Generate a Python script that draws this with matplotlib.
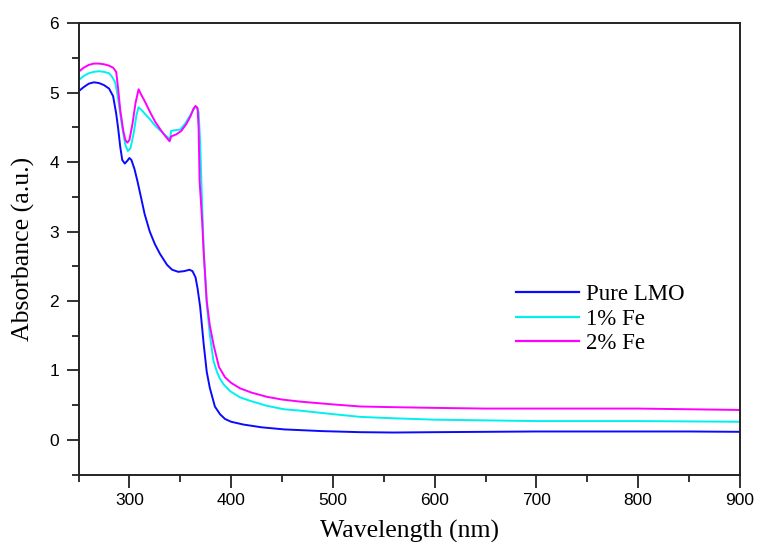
import matplotlib
matplotlib.use("Agg")
import matplotlib.pyplot as plt
from matplotlib.ticker import MultipleLocator

# UV-Vis absorbance spectra
wl_pure = [250, 255, 260, 265, 270, 275, 280, 284, 287, 289, 291, 293, 295.5, 298,
           300, 302, 305, 308, 311, 315, 320, 325, 330, 337, 342, 348, 354, 359,
           362, 365, 367, 369.5, 373, 376, 379, 384, 389, 394, 400, 412, 430, 452,
           490, 527, 560, 600, 650, 700, 750, 800, 850, 900]
abs_pure = [5.02, 5.08, 5.13, 5.15, 5.14, 5.11, 5.06, 4.95, 4.70, 4.48, 4.22, 4.03, 3.98, 4.02,
            4.06, 4.03, 3.90, 3.72, 3.52, 3.25, 3.00, 2.82, 2.68, 2.52, 2.45, 2.42, 2.43, 2.45,
            2.43, 2.34, 2.18, 1.92, 1.38, 0.98, 0.75, 0.48, 0.37, 0.30, 0.26, 0.22, 0.18, 0.15,
            0.125, 0.11, 0.105, 0.11, 0.115, 0.12, 0.12, 0.12, 0.12, 0.115]

wl_fe1 = [250, 255, 260, 265, 270, 275, 280, 283, 286, 288, 290, 293, 296, 298.5,
          301, 304, 307, 309, 312, 315, 320, 325, 330, 335, 340, 341, 345, 350,
          355, 360, 364, 366, 368, 369.5, 371, 373, 376, 379, 382.6, 386, 389, 392.5,
          399, 409, 419, 435, 452, 468, 500, 527, 560, 600, 650, 700, 800, 900]
abs_fe1 = [5.18, 5.24, 5.28, 5.30, 5.31, 5.30, 5.28, 5.23, 5.15, 5.00, 4.80, 4.50, 4.25, 4.16,
           4.20, 4.40, 4.68, 4.79, 4.75, 4.70, 4.62, 4.53, 4.46, 4.39, 4.33, 4.45, 4.46, 4.47,
           4.56, 4.68, 4.78, 4.79, 4.72, 4.30, 3.60, 2.75, 1.95, 1.52, 1.14, 0.98, 0.88, 0.80,
           0.70, 0.61, 0.56, 0.49, 0.44, 0.42, 0.37, 0.33, 0.31, 0.29, 0.28, 0.27, 0.27, 0.26]

wl_fe2 = [250, 255, 260, 265, 270, 275, 280, 284, 287, 289, 291, 294, 296, 298,
          300, 303, 306, 309, 312, 315, 320, 325, 330, 335, 339.5, 341, 346, 351,
          356, 360, 363, 365, 367, 368, 369, 371.5, 373, 376, 379, 383, 388, 394,
          400, 409, 420, 435, 450, 468, 500, 527, 560, 600, 650, 700, 750, 800, 850, 900]
abs_fe2 = [5.30, 5.36, 5.40, 5.42, 5.42, 5.41, 5.39, 5.36, 5.30, 5.05, 4.75, 4.45, 4.32, 4.28,
           4.32, 4.55, 4.85, 5.05, 4.96, 4.88, 4.73, 4.59, 4.48, 4.38, 4.30, 4.37, 4.40, 4.45,
           4.55, 4.66, 4.77, 4.81, 4.78, 4.50, 3.73, 3.15, 2.70, 2.00, 1.65, 1.35, 1.05, 0.90,
           0.82, 0.74, 0.68, 0.62, 0.58, 0.55, 0.51, 0.48, 0.47, 0.46, 0.45, 0.45, 0.45, 0.45, 0.44, 0.43]

series_labels = ["Pure LMO", "1% Fe", "2% Fe"]
series_colors = ["#0a0aff", "#00f0f0", "#ff00ff"]

serif = ["Liberation Serif", "DejaVu Serif"]
sans = ["Liberation Sans", "DejaVu Sans"]

fig = plt.figure(figsize=(7.58, 5.42), dpi=100)
ax = fig.add_axes([0.1036, 0.1245, 0.8725, 0.8325])

for x, y, lab, col in zip([wl_pure, wl_fe1, wl_fe2], [abs_pure, abs_fe1, abs_fe2],
                          series_labels, series_colors):
    ax.plot(x, y, color=col, lw=1.4, label=lab)

ax.set_xlim(250, 900)
ax.set_ylim(-0.5, 6)
ax.xaxis.set_major_locator(MultipleLocator(100))
ax.xaxis.set_minor_locator(MultipleLocator(50))
ax.yaxis.set_major_locator(MultipleLocator(1))
ax.yaxis.set_minor_locator(MultipleLocator(0.5))

for s in ax.spines.values():
    s.set_linewidth(1.4)
    s.set_color("#222222")

ax.tick_params(which="major", direction="out", length=9, width=1.3, color="#222222",
               labelsize=12.5, pad=4)
ax.tick_params(which="minor", direction="out", length=5, width=1.3, color="#222222")
ax.tick_params(axis="y", which="major", pad=5)
for lbl in ax.get_xticklabels() + ax.get_yticklabels():
    lbl.set_family(sans)

ax.set_xlabel("Wavelength (nm)", family=serif, fontsize=18.5, labelpad=9)
ax.set_ylabel("Absorbance (a.u.)", family=serif, fontsize=18.5, labelpad=10)

leg = ax.legend(loc="center left", bbox_to_anchor=(0.661, 0.3446), frameon=False,
                prop={"family": serif, "size": 16.5}, handlelength=2.75,
                handletextpad=0.3, labelspacing=0.17, borderpad=0, borderaxespad=0)
for h in leg.get_lines():
    h.set_linewidth(1.6)

fig.savefig("out.png", dpi=100)
